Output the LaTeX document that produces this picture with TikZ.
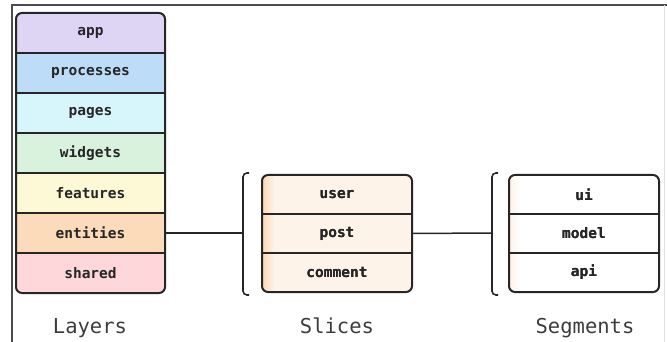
\documentclass[tikz,border=0pt]{standalone}
\usepackage{fontspec}
\setmonofont{DejaVu Sans Mono}
\usetikzlibrary{positioning}

\definecolor{appc}{HTML}{DED4F3}
\definecolor{procc}{HTML}{BCDCF8}
\definecolor{pagec}{HTML}{D7F6FC}
\definecolor{widgc}{HTML}{D8F2DE}
\definecolor{featc}{HTML}{FDF8D5}
\definecolor{entc}{HTML}{FCDBBA}
\definecolor{sharc}{HTML}{FDD7DA}
\definecolor{slicec}{HTML}{FDF3E9}
\definecolor{stripc}{HTML}{FAD8B4}
\definecolor{inkc}{HTML}{262626}

\tikzset{
 row/.style={draw=inkc, line width=1.4pt, minimum width=149pt, inner sep=0pt,
  font=\ttfamily\bfseries\fontsize{14.5}{16}\selectfont, text=inkc},
 layer/.style={row, minimum height=40pt},
 part/.style={row, minimum height=39pt},
 frameline/.style={draw=inkc, line width=2pt, rounded corners=6pt},
 bracket/.style={draw=inkc, line width=1.6pt, rounded corners=4pt},
 caption/.style={anchor=base, font=\ttfamily\fontsize{20.5}{22}\selectfont, text=inkc!90}
}

\begin{document}
\begin{tikzpicture}[x=1pt,y=-1pt]
\useasboundingbox (0,0) rectangle (667,342);
% outer frame
\draw[black!70, line width=1.2pt] (12,342) -- (12,5) -- (667,5);
\draw[black!12, line width=0.8pt] (664,5) -- (664,342);

% layers
\begin{scope}
\clip[rounded corners=6pt] (16,13) rectangle (165,293);
\foreach \name/\col [count=\i from 0] in {app/appc,processes/procc,pages/pagec,widgets/widgc,features/featc,entities/entc,shared/sharc} {
 \node[layer, fill=\col] (L\i) at (90.5,{33+40*\i}) {\name};
}
\end{scope}
\draw[frameline] (16,13) rectangle (165,293);

% slices
\begin{scope}
\clip[rounded corners=6pt] (262,175) rectangle (412,292);
\foreach \name [count=\i from 0] in {user,post,comment} {
 \node[part, fill=slicec] (S\i) at (337,{194.5+39*\i}) {\name};
}
\shade[left color=stripc, right color=slicec] (262,175) rectangle (274,292);
\foreach \name [count=\i from 0] in {user,post,comment} \node[part] at (S\i) {\name};
\end{scope}
\draw[frameline] (262,175) rectangle (412,292);

% segments
\begin{scope}
\clip[rounded corners=6pt] (509,175) rectangle (659,292);
\foreach \name [count=\i from 0] in {ui,model,api} {
 \node[part, fill=white] (G\i) at (584,{194.5+39*\i}) {\name};
}
\shade[left color=slicec, right color=white] (509,175) rectangle (520,292);
\foreach \name [count=\i from 0] in {ui,model,api} \node[part] at (G\i) {\name};
\end{scope}
\draw[frameline] (509,175) rectangle (659,292);

% brackets
\draw[bracket] (249,173) -- (243,173) -- (243,295) -- (249,295);
\draw[bracket] (498,173) -- (492,173) -- (492,295) -- (498,295);
\coordinate (sb) at (243,233);
\coordinate (gb) at (492,233);

% connectors
\draw[inkc, line width=1.5pt] (L5.east) -- (sb);
\draw[inkc, line width=1.5pt] (S1.east) -- (gb);

% captions
\node[caption] (layers) at (90,333) {Layers};
\node[caption] (slices) at (337,333) {Slices};
\node[caption] (segments) at (585,333) {Segments};
\end{tikzpicture}
\end{document}
